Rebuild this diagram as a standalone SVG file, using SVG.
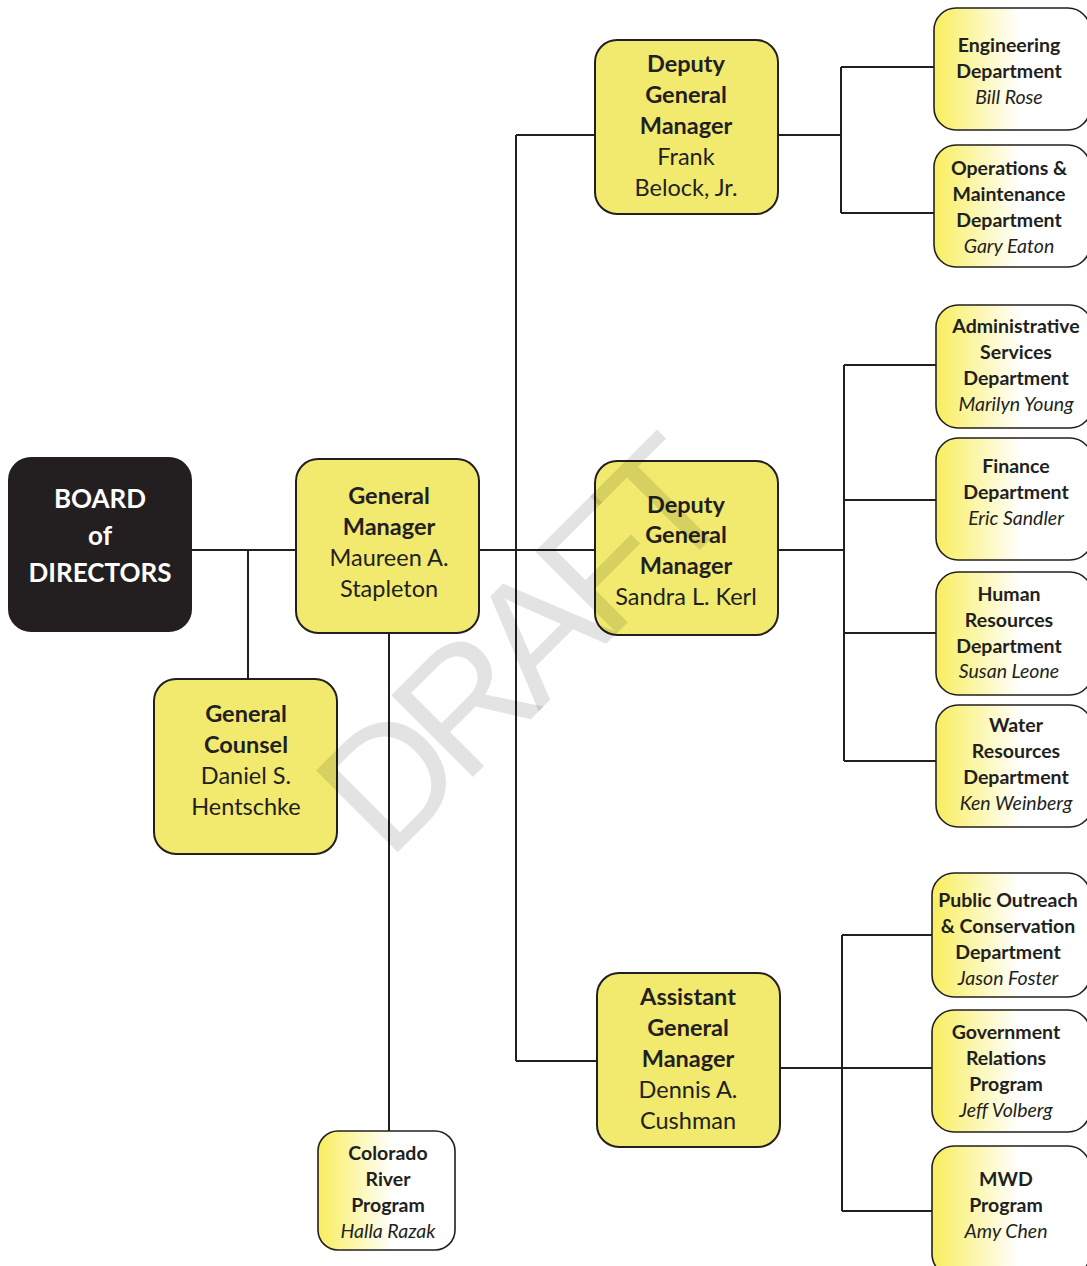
<svg xmlns="http://www.w3.org/2000/svg" width="1087" height="1266" viewBox="0 0 1087 1266">
<defs>
<linearGradient id="fade" x1="0" y1="0" x2="1" y2="0">
<stop offset="0" stop-color="#f8ee5e"/>
<stop offset="0.55" stop-color="#ffffff"/>
<stop offset="1" stop-color="#ffffff"/>
</linearGradient>
<style>
.big{fill:#f1ea6e;stroke:#231f20;stroke-width:2}
.board{fill:#231f20;stroke:#231f20;stroke-width:2}
.small{fill:url(#fade);stroke:#231f20;stroke-width:1.6}
.c{fill:none;stroke:#231f20;stroke-width:2}
text{font-family:Lato,"Open Sans","Liberation Sans",sans-serif;fill:#231f20;text-anchor:middle}
.t{font-size:23.5px}
.b{font-weight:bold}
.s{font-size:19.5px}
.i{font-style:italic;font-weight:normal}
.w{fill:#ffffff;font-size:26px;font-weight:bold}
.wm{font-family:"Liberation Sans",sans-serif;font-size:168px;fill:#000000;fill-opacity:0.11;text-anchor:start}
</style>
</defs>
<rect width="1087" height="1266" fill="#ffffff"/>
<g id="connectors">
<path class="c" d="M191 550H296M248 550V679M479 550H595M516 135V1061M516 135H595M516 1061H597M389 633V1131"/>
<path class="c" d="M778 135H841M841 67V213M841 67H934M841 213H934"/>
<path class="c" d="M778 550H844M844 365V761M844 365H936M844 500H936M844 633H936M844 761H936"/>
<path class="c" d="M780 1068H842M842 935V1211M842 935H932M842 1068H932M842 1211H932"/>
</g>
<g id="board">
<rect class="board" x="9" y="458" width="182" height="173" rx="22"/>
<text class="w" x="100" y="508">BOARD</text>
<text class="w" x="100" y="545">of</text>
<text class="w" x="100" y="582">DIRECTORS</text>
</g>
<g id="gm">
<rect class="big" x="296" y="459" width="183" height="174" rx="22"/>
<text class="t b" x="389" y="504">General</text>
<text class="t b" x="389" y="535">Manager</text>
<text class="t" x="389" y="566">Maureen A.</text>
<text class="t" x="389" y="597">Stapleton</text>
</g>
<g id="gc">
<rect class="big" x="154" y="679" width="183" height="175" rx="22"/>
<text class="t b" x="246" y="722">General</text>
<text class="t b" x="246" y="753">Counsel</text>
<text class="t" x="246" y="784">Daniel S.</text>
<text class="t" x="246" y="815">Hentschke</text>
</g>
<g id="dgm1">
<rect class="big" x="595" y="40" width="183" height="174" rx="22"/>
<text class="t b" x="686" y="72">Deputy</text>
<text class="t b" x="686" y="103">General</text>
<text class="t b" x="686" y="134">Manager</text>
<text class="t" x="686" y="165">Frank</text>
<text class="t" x="686" y="196">Belock, Jr.</text>
</g>
<g id="dgm2">
<rect class="big" x="595" y="461" width="183" height="174" rx="22"/>
<text class="t b" x="686" y="513">Deputy</text>
<text class="t b" x="686" y="543">General</text>
<text class="t b" x="686" y="574">Manager</text>
<text class="t" x="686" y="605">Sandra L. Kerl</text>
</g>
<g id="agm">
<rect class="big" x="597" y="973" width="183" height="174" rx="22"/>
<text class="t b" x="688" y="1005">Assistant</text>
<text class="t b" x="688" y="1036">General</text>
<text class="t b" x="688" y="1067">Manager</text>
<text class="t" x="688" y="1098">Dennis A.</text>
<text class="t" x="688" y="1129">Cushman</text>
</g>
<g id="colorado">
<rect class="small" x="318" y="1131" width="137" height="119" rx="20"/>
<text class="s b" x="388" y="1160">Colorado</text>
<text class="s b" x="388" y="1186">River</text>
<text class="s b" x="388" y="1212">Program</text>
<text class="s i" x="388" y="1238">Halla Razak</text>
</g>
<g id="engineering">
<rect class="small" x="934" y="8" width="156" height="122" rx="22"/>
<text class="s b" x="1009" y="52">Engineering</text>
<text class="s b" x="1009" y="78">Department</text>
<text class="s i" x="1009" y="104">Bill Rose</text>
</g>
<g id="operations">
<rect class="small" x="934" y="145" width="156" height="122" rx="22"/>
<text class="s b" x="1009" y="175">Operations &amp;</text>
<text class="s b" x="1009" y="201">Maintenance</text>
<text class="s b" x="1009" y="227">Department</text>
<text class="s i" x="1009" y="253">Gary Eaton</text>
</g>
<g id="admin">
<rect class="small" x="936" y="305" width="156" height="123" rx="22"/>
<text class="s b" x="1016" y="333">Administrative</text>
<text class="s b" x="1016" y="359">Services</text>
<text class="s b" x="1016" y="385">Department</text>
<text class="s i" x="1016" y="411">Marilyn Young</text>
</g>
<g id="finance">
<rect class="small" x="936" y="438" width="156" height="122" rx="22"/>
<text class="s b" x="1016" y="473">Finance</text>
<text class="s b" x="1016" y="499">Department</text>
<text class="s i" x="1016" y="525">Eric Sandler</text>
</g>
<g id="hr">
<rect class="small" x="936" y="572" width="156" height="123" rx="22"/>
<text class="s b" x="1009" y="601">Human</text>
<text class="s b" x="1009" y="627">Resources</text>
<text class="s b" x="1009" y="653">Department</text>
<text class="s i" x="1009" y="678">Susan Leone</text>
</g>
<g id="water">
<rect class="small" x="936" y="705" width="156" height="122" rx="22"/>
<text class="s b" x="1016" y="732">Water</text>
<text class="s b" x="1016" y="758">Resources</text>
<text class="s b" x="1016" y="784">Department</text>
<text class="s i" x="1016" y="810">Ken Weinberg</text>
</g>
<g id="outreach">
<rect class="small" x="932" y="873" width="158" height="124" rx="22"/>
<text class="s b" x="1008" y="907">Public Outreach</text>
<text class="s b" x="1008" y="933">&amp; Conservation</text>
<text class="s b" x="1008" y="959">Department</text>
<text class="s i" x="1008" y="985">Jason Foster</text>
</g>
<g id="govrel">
<rect class="small" x="932" y="1010" width="158" height="122" rx="22"/>
<text class="s b" x="1006" y="1039">Government</text>
<text class="s b" x="1006" y="1065">Relations</text>
<text class="s b" x="1006" y="1091">Program</text>
<text class="s i" x="1006" y="1117">Jeff Volberg</text>
</g>
<g id="mwd">
<rect class="small" x="932" y="1146" width="158" height="130" rx="22"/>
<text class="s b" x="1006" y="1186">MWD</text>
<text class="s b" x="1006" y="1212">Program</text>
<text class="s i" x="1006" y="1238">Amy Chen</text>
</g>
<g id="watermark">
<text class="wm" x="0" y="0" transform="translate(388,862) rotate(-45)" textLength="500" lengthAdjust="spacing">DRAFT</text>
</g>
</svg>
